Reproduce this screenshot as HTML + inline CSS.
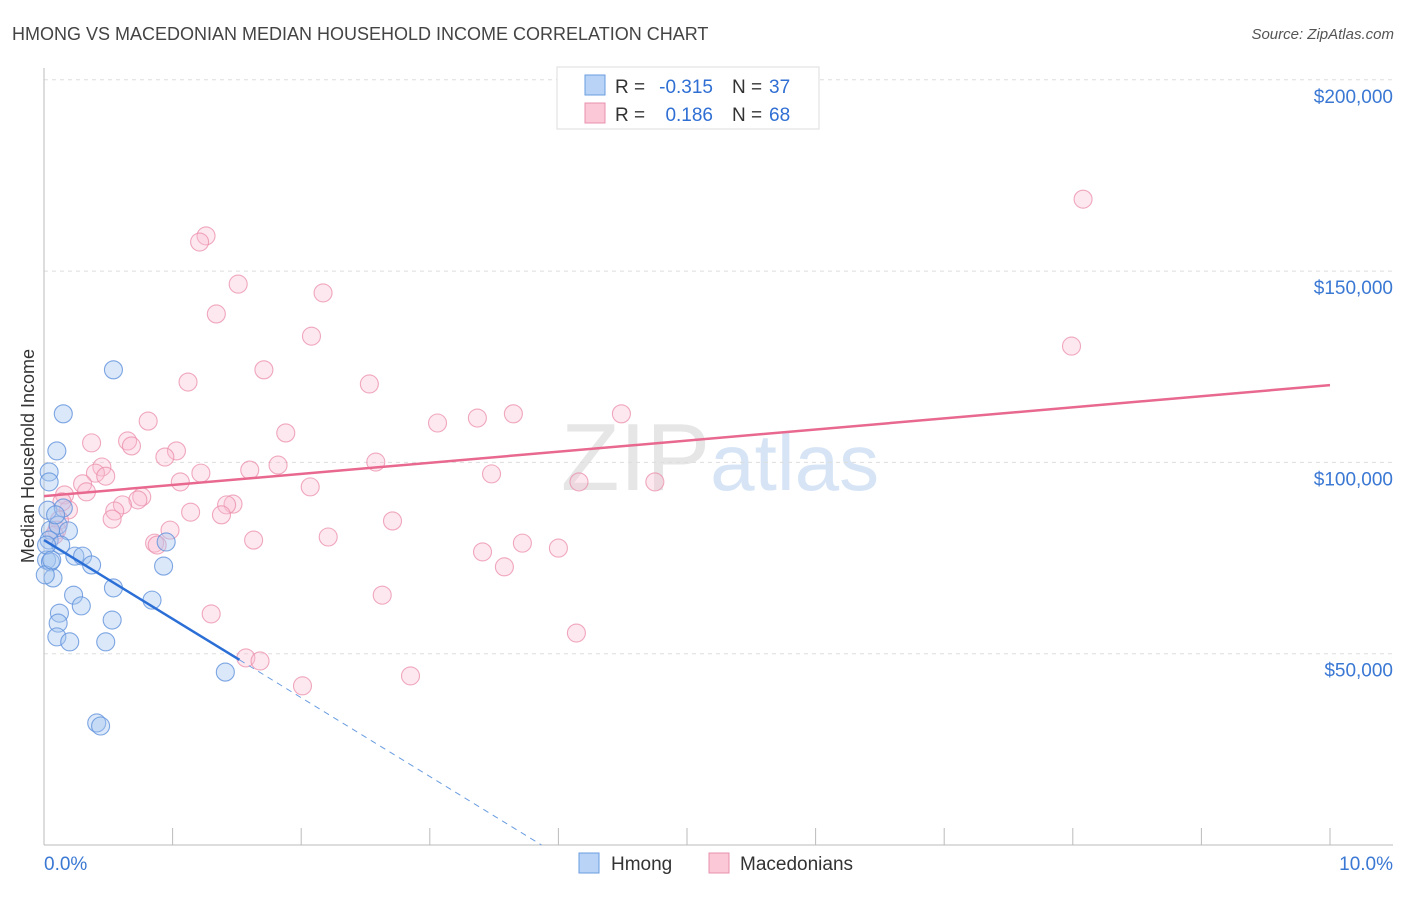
<!DOCTYPE html>
<html><head><meta charset="utf-8"><style>
body{margin:0;background:#fff;font-family:"Liberation Sans",sans-serif;}
svg text{font-family:"Liberation Sans",sans-serif;}
</style></head><body>
<svg id="chart" width="1406" height="892" xmlns="http://www.w3.org/2000/svg">
<text x="12" y="40" font-size="18" fill="#444">HMONG VS MACEDONIAN MEDIAN HOUSEHOLD INCOME CORRELATION CHART</text>
<text x="1394" y="39" font-size="15" fill="#555" text-anchor="end" font-style="italic">Source: ZipAtlas.com</text>
<text x="720" y="490" font-size="96" text-anchor="middle" fill="#e6e6e6" font-family="Liberation Serif">ZIP<tspan fill="#d6e4f5" font-family="Liberation Sans" font-size="80">atlas</tspan></text>
<g id="grid"></g><g id="axes"></g><g id="marks"></g>
<text transform="translate(34,456) rotate(-90)" font-size="18" fill="#333" text-anchor="middle">Median Household Income</text>
<g>
<rect x="557" y="67" width="262" height="62" fill="#fff" stroke="#ddd"/>
<rect x="585" y="75" width="20" height="20" fill="#b8d3f5" stroke="#6a9de0"/>
<rect x="585" y="103" width="20" height="20" fill="#fbc8d7" stroke="#e890ac"/>
<text x="615" y="93" font-size="19" fill="#333">R =</text>
<text x="713" y="93" font-size="19" fill="#2f6fd4" text-anchor="end">-0.315</text>
<text x="732" y="93" font-size="19" fill="#333">N =</text>
<text x="769" y="93" font-size="19" fill="#2f6fd4">37</text>
<text x="615" y="121" font-size="19" fill="#333">R =</text>
<text x="713" y="121" font-size="19" fill="#2f6fd4" text-anchor="end">0.186</text>
<text x="732" y="121" font-size="19" fill="#333">N =</text>
<text x="769" y="121" font-size="19" fill="#2f6fd4">68</text>
</g>
<g>
<rect x="579" y="853" width="20" height="20" fill="#b8d3f5" stroke="#6a9de0"/>
<text x="611" y="870" font-size="19" fill="#333">Hmong</text>
<rect x="709" y="853" width="20" height="20" fill="#fbc8d7" stroke="#e890ac"/>
<text x="740" y="870" font-size="19" fill="#333">Macedonians</text>
</g>
</svg>
<script>
const yTicks=[50000,100000,150000,200000];
const yTickLabels=["$50,000","$100,000","$150,000","$200,000"];
const xTickLabels=["0.0%","10.0%"];
const hmongX=[0.54,0.15,0.10,0.04,0.04,0.03,0.15,0.05,0.11,0.19,0.04,0.13,0.02,0.05,0.07,0.24,0.30,0.37,0.95,0.93,0.54,0.84,0.23,0.29,0.12,0.53,0.11,0.10,0.20,0.48,1.41,0.41,0.44,0.01,0.02,0.06,0.09];
const hmongY=[124.2,112.7,103.0,97.5,94.9,87.5,88.1,82.3,83.6,82.1,79.7,78.4,74.5,74.0,69.8,75.5,75.5,73.2,79.2,72.9,67.2,64.0,65.3,62.5,60.6,58.8,58.0,54.4,53.1,53.1,45.2,31.9,31.1,70.6,78.4,74.5,86.3];
const macX=[8.08,1.26,1.21,1.51,2.17,1.34,2.08,7.99,1.71,1.12,2.53,0.81,3.65,4.49,3.37,3.06,0.37,0.65,1.88,0.68,1.03,0.94,2.58,0.45,1.82,1.60,1.22,0.40,0.48,3.48,1.06,2.07,4.75,4.16,0.30,0.33,0.16,0.76,0.73,0.61,1.47,1.42,0.19,1.14,0.55,1.38,0.53,0.12,2.71,0.98,0.10,2.21,1.63,0.86,0.88,3.72,4.00,3.41,3.58,2.63,1.30,4.14,1.57,1.68,2.01,2.85,0.14,0.08];
const macY=[168.8,159.2,157.6,146.6,144.3,138.8,133.0,130.4,124.2,121.0,120.5,110.8,112.7,112.7,111.6,110.3,105.1,105.6,107.7,104.3,103.0,101.4,100.1,98.8,99.3,98.0,97.2,97.2,96.4,97.0,94.9,93.6,94.9,94.9,94.4,92.3,91.5,91.0,90.2,88.9,89.1,88.9,87.6,87.0,87.3,86.3,85.2,84.9,84.7,82.3,82.3,80.5,79.7,78.9,78.4,78.9,77.6,76.6,72.7,65.3,60.4,55.4,48.9,48.1,41.6,44.2,89.7,81.0];
const hmongTrend=[79.7,-20.6]; // intercept (k$), slope per %
const macTrend=[91.2,2.9];
const NS="http://www.w3.org/2000/svg";
const sx=v=>44+v*128.6;
const sy=v=>845-v/50*191.3; // v in thousands
function mk(tag,attrs,parent){const e=document.createElementNS(NS,tag);for(const k in attrs)e.setAttribute(k,attrs[k]);parent.appendChild(e);return e;}
const grid=document.getElementById('grid'),axes=document.getElementById('axes'),marks=document.getElementById('marks');
yTicks.forEach((t,i)=>{
 const y=sy(t/1000);
 const l=mk('line',{x1:44,x2:1393,y1:y,y2:y,stroke:'#ddd','stroke-dasharray':'4,4'},grid);
 
 
 const tx=mk('text',{x:1393,y:y+23,'font-size':19,fill:'#3a78d4','text-anchor':'end'},axes);
 tx.textContent=yTickLabels[i];
 
 
});
mk('line',{x1:44,x2:44,y1:68,y2:845,stroke:'#bbb'},axes);
mk('line',{x1:44,x2:1393,y1:845,y2:845,stroke:'#bbb'},axes);
for(let i=0;i<=10;i++){const x=sx(i);const t=mk('line',{x1:x,x2:x,y1:828,y2:845,stroke:'#bbb'},axes);
 
 }
const x0=mk('text',{x:44,y:870,'font-size':19,fill:'#3a78d4'},axes);x0.textContent=xTickLabels[0];


const x1=mk('text',{x:1393,y:870,'font-size':19,fill:'#3a78d4','text-anchor':'end'},axes);x1.textContent=xTickLabels[1];


macX.forEach((v,i)=>{const c=mk('circle',{cx:sx(v),cy:sy(macY[i]),r:9,fill:'rgba(248,190,208,0.35)',stroke:'rgba(235,140,170,0.75)','stroke-width':1.1},marks);
 
 });
hmongX.forEach((v,i)=>{const c=mk('circle',{cx:sx(v),cy:sy(hmongY[i]),r:9,fill:'rgba(165,198,240,0.4)',stroke:'rgba(95,145,220,0.8)','stroke-width':1.1},marks);
 
 });
const pl=mk('line',{x1:sx(0),y1:sy(macTrend[0]),x2:sx(10),y2:sy(macTrend[0]+10*macTrend[1]),stroke:'#e8688f','stroke-width':2.5},marks);


const xe=1.52, xz=-hmongTrend[0]/hmongTrend[1];
const bl=mk('line',{x1:sx(0),y1:sy(hmongTrend[0]),x2:sx(xe),y2:sy(hmongTrend[0]+xe*hmongTrend[1]),stroke:'#2b6fd6','stroke-width':2.5},marks);


const bd=mk('line',{x1:sx(xe),y1:sy(hmongTrend[0]+xe*hmongTrend[1]),x2:sx(xz),y2:sy(0),stroke:'#6a9de0','stroke-width':1,'stroke-dasharray':'6,5'},marks);


</script>
</body></html>
